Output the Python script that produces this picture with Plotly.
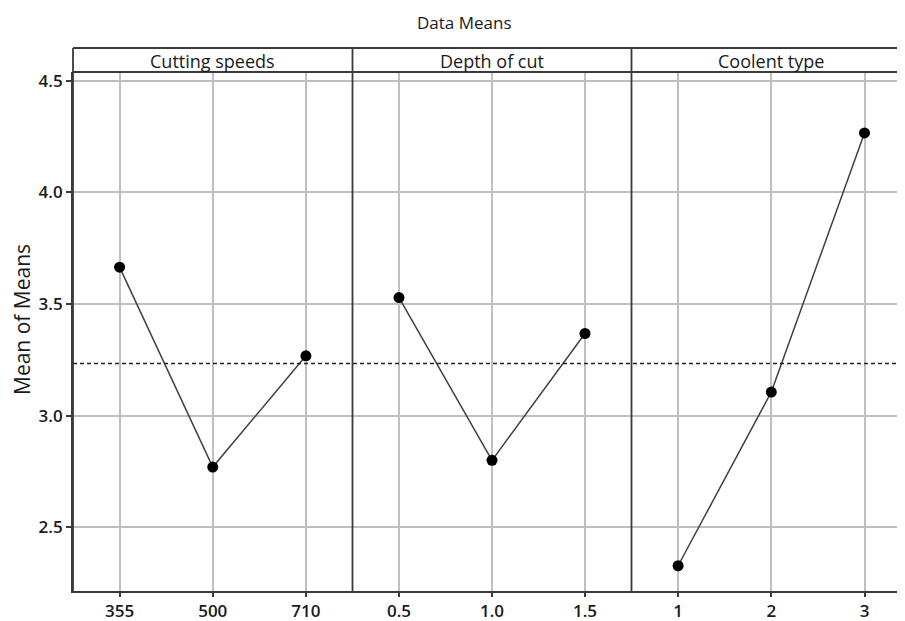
import plotly.graph_objects as go

# ---- data ----
cutting_levels = ["355", "500", "710"]
cutting_means = [3.665, 2.770, 3.268]
depth_levels = ["0.5", "1.0", "1.5"]
depth_means = [3.529, 2.800, 3.368]
coolant_levels = ["1", "2", "3"]
coolant_means = [2.328, 3.106, 4.266]
panel_titles = ["Cutting speeds", "Depth of cut", "Coolent type"]
grand_mean = 3.234
y_ticks = [2.5, 3.0, 3.5, 4.0, 4.5]

# page body has an 8px margin; work in reference-pixel coordinates
OFF = 8
W, H = 905 - OFF, 621 - OFF
L = 73 - OFF
T = 72 - OFF
R = 0
B = H - (591 - OFF)
pw = W - L - R
ph = H - T - B

def px_x(p):
    return (p - OFF - L) / pw

def px_y(p):
    return (H - B - (p - OFF)) / ph

d1 = px_x(352.5)
d2 = px_x(631.5)

FONT = "Open Sans"
LINE = "#3a3a3a"
GRID = "#bfbfbf"
TXT = "#1a1a1a"

fig = go.Figure()
for lv, mv, ax in [(cutting_levels, cutting_means, "x"),
                   (depth_levels, depth_means, "x2"),
                   (coolant_levels, coolant_means, "x3")]:
    fig.add_trace(go.Scatter(
        x=lv, y=mv, xaxis=ax, yaxis="y", mode="lines+markers",
        line=dict(color="#404040", width=1.5),
        marker=dict(color="black", size=11),
        showlegend=False, hoverinfo="x+y"))

xcommon = dict(type="category", showgrid=True, gridcolor=GRID, gridwidth=1.5,
               showline=True, linecolor=LINE, linewidth=1.8, ticks="outside",
               ticklen=4, tickwidth=1.5, tickcolor=LINE, zeroline=False,
               tickfont=dict(family=FONT, size=17, color=TXT, weight=600),
               anchor="y", fixedrange=True, automargin=False)

fig.update_layout(
    width=W, height=H,
    margin=dict(l=L, r=R, t=T, b=B, pad=0),
    plot_bgcolor="white", paper_bgcolor="white",
    xaxis=dict(domain=[0, d1], range=[-0.5, 2.5], **xcommon),
    xaxis2=dict(domain=[d1, d2], range=[-0.5, 2.5], **xcommon),
    xaxis3=dict(domain=[d2, 1], range=[-0.5, -0.5 + (905 - 631.5) / 93.2], **xcommon),
    yaxis=dict(range=[2.215, 4.539], tickvals=y_ticks,
               ticktext=[f"{v:.1f}" for v in y_ticks],
               showgrid=True, gridcolor=GRID, gridwidth=1.5,
               showline=True, linecolor=LINE, linewidth=1.8,
               ticks="outside", ticklen=5, tickwidth=1.5, tickcolor=LINE,
               zeroline=False, anchor="x", automargin=False,
               tickfont=dict(family=FONT, size=17, color=TXT, weight=600),
               fixedrange=True),
)

# reference (grand mean) line
fig.add_shape(type="line", xref="paper", yref="y", x0=0, x1=1,
              y0=grand_mean, y1=grand_mean,
              line=dict(color="#222222", width=1.6, dash="4px,3px"))

# strip + panel borders
strip_top = px_y(48)
fig.add_shape(type="line", xref="paper", yref="paper", x0=0, x1=1, y0=1, y1=1,
              line=dict(color=LINE, width=1.8))
fig.add_shape(type="line", xref="paper", yref="paper", x0=0, x1=1,
              y0=strip_top, y1=strip_top, line=dict(color=LINE, width=1.8))
for xv in [0, d1, d2]:
    fig.add_shape(type="line", xref="paper", yref="paper", x0=xv, x1=xv,
                  y0=0, y1=strip_top, line=dict(color=LINE, width=1.8))

# strip titles
for t, ax in zip(panel_titles, ["x", "x2", "x3"]):
    if ax == "x3":
        xr, xv = "x3", 1
    else:
        xr, xv = f"{ax} domain", 0.5
    fig.add_annotation(text=t, xref=xr, x=xv, yref="paper", y=px_y(61),
                       showarrow=False, xanchor="center", yanchor="middle",
                       font=dict(family=FONT, size=18, color=TXT, weight=500))

# title
fig.add_annotation(text="Data Means", xref="paper", x=px_x(464), yref="paper",
                   y=px_y(OFF + 0.5), showarrow=False, xanchor="center", yanchor="top",
                   font=dict(family=FONT, size=17, color=TXT))

# y-axis label
fig.add_annotation(text="Mean of Means", xref="paper", x=px_x(22), yref="paper",
                   y=px_y(320), showarrow=False, textangle=-90,
                   xanchor="center", yanchor="middle",
                   font=dict(family=FONT, size=21, color=TXT, weight=500))

fig.write_html("out.html")
